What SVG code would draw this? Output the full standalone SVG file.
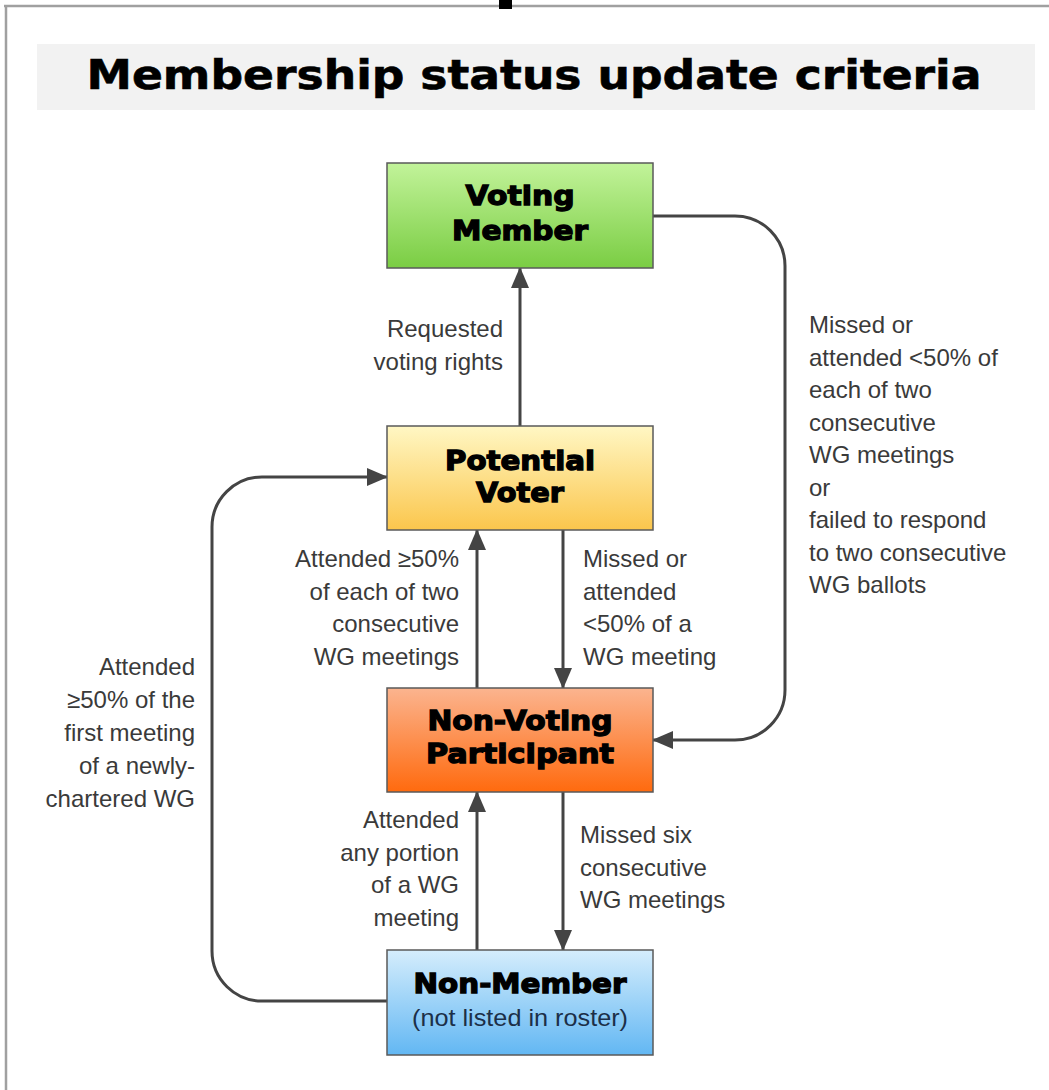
<svg xmlns="http://www.w3.org/2000/svg" width="1049" height="1090" viewBox="0 0 1049 1090">
<defs>
<linearGradient id="gGreen" x1="0" y1="0" x2="0" y2="1"><stop offset="0" stop-color="#c2f39a"/><stop offset="1" stop-color="#7acd43"/></linearGradient>
<linearGradient id="gYellow" x1="0" y1="0" x2="0" y2="1"><stop offset="0" stop-color="#fff7c4"/><stop offset="1" stop-color="#fbc64c"/></linearGradient>
<linearGradient id="gOrange" x1="0" y1="0" x2="0" y2="1"><stop offset="0" stop-color="#fbb48f"/><stop offset="1" stop-color="#ff6a0e"/></linearGradient>
<linearGradient id="gBlue" x1="0" y1="0" x2="0" y2="1"><stop offset="0" stop-color="#d5edfc"/><stop offset="1" stop-color="#62b7f3"/></linearGradient>
<marker id="arr" markerUnits="userSpaceOnUse" markerWidth="21" markerHeight="18" refX="20" refY="9" orient="auto"><path d="M0,0 L21,9 L0,18 z" fill="#444"/></marker>
</defs>
<style>
.box{stroke:#5a5a5a;stroke-width:1.5}
.bt{font-family:"DejaVu Sans",sans-serif;font-weight:bold;font-size:27px;fill:#000;stroke:#000;stroke-width:1.3;text-anchor:middle}
.lb{font-family:"Liberation Sans",Arial,sans-serif;font-size:24px;fill:#3a3a3a}
.end{text-anchor:end}
.con{fill:none;stroke:#444;stroke-width:3;marker-end:url(#arr)}
</style>
<rect width="1049" height="1090" fill="#fff"/>
<g id="frame">
<line x1="4" y1="6" x2="1049" y2="6" stroke="#a0a0a0" stroke-width="2.5"/>
<line x1="6" y1="6" x2="6" y2="1090" stroke="#a0a0a0" stroke-width="2.5"/>
<rect x="499" y="0" width="13" height="9" fill="#000"/>
</g>
<g id="title">
<rect x="37" y="44" width="998" height="66" fill="#f2f2f2"/>
<text x="534" y="89" font-family="DejaVu Sans, Verdana, sans-serif" font-weight="bold" font-size="41" text-anchor="middle" textLength="895" lengthAdjust="spacingAndGlyphs" fill="#000" stroke="#000" stroke-width="0.6">Membership status update criteria</text>
</g>
<g id="connectors">
<path class="con" d="M520,426 V268"/>
<path class="con" d="M653,216 H735 A50,50 0 0 1 785,266 V690 A50,50 0 0 1 735,740 H653"/>
<path class="con" d="M477,688 V530"/>
<path class="con" d="M563,530 V688"/>
<path class="con" d="M477,950 V792"/>
<path class="con" d="M563,792 V950"/>
<path class="con" d="M387,1001 H263 A50,50 0 0 1 212,951 V527 A50,50 0 0 1 262,477 H387"/>
</g>
<g id="labels">
<text class="lb end" x="503" y="337">Requested</text>
<text class="lb end" x="503" y="370">voting rights</text>
<text class="lb" x="809" y="333">Missed or</text>
<text class="lb" x="809" y="365.5">attended &lt;50% of</text>
<text class="lb" x="809" y="398">each of two</text>
<text class="lb" x="809" y="430.5">consecutive</text>
<text class="lb" x="809" y="463">WG meetings</text>
<text class="lb" x="809" y="495.5">or</text>
<text class="lb" x="809" y="528">failed to respond</text>
<text class="lb" x="809" y="560.5">to two consecutive</text>
<text class="lb" x="809" y="593">WG ballots</text>
<text class="lb end" x="459" y="567">Attended ≥50%</text>
<text class="lb end" x="459" y="599.5">of each of two</text>
<text class="lb end" x="459" y="632">consecutive</text>
<text class="lb end" x="459" y="664.5">WG meetings</text>
<text class="lb" x="583" y="567">Missed or</text>
<text class="lb" x="583" y="599.5">attended</text>
<text class="lb" x="583" y="632">&lt;50% of a</text>
<text class="lb" x="583" y="664.5">WG meeting</text>
<text class="lb end" x="195" y="675">Attended</text>
<text class="lb end" x="195" y="708">≥50% of the</text>
<text class="lb end" x="195" y="741">first meeting</text>
<text class="lb end" x="195" y="774">of a newly-</text>
<text class="lb end" x="195" y="807">chartered WG</text>
<text class="lb end" x="459" y="828">Attended</text>
<text class="lb end" x="459" y="861">any portion</text>
<text class="lb end" x="459" y="893">of a WG</text>
<text class="lb end" x="459" y="926">meeting</text>
<text class="lb" x="580" y="843">Missed six</text>
<text class="lb" x="580" y="876">consecutive</text>
<text class="lb" x="580" y="908">WG meetings</text>
</g>
<g id="voting-member">
<rect class="box" x="387" y="163" width="266" height="105" fill="url(#gGreen)"/>
<text class="bt" x="520" y="205" textLength="109" lengthAdjust="spacingAndGlyphs">Voting</text>
<text class="bt" x="520" y="240" textLength="136" lengthAdjust="spacingAndGlyphs">Member</text>
</g>
<g id="potential-voter">
<rect class="box" x="387" y="426" width="266" height="104" fill="url(#gYellow)"/>
<text class="bt" x="520" y="470" textLength="150" lengthAdjust="spacingAndGlyphs">Potential</text>
<text class="bt" x="520" y="502" textLength="88" lengthAdjust="spacingAndGlyphs">Voter</text>
</g>
<g id="non-voting-participant">
<rect class="box" x="387" y="688" width="266" height="104" fill="url(#gOrange)"/>
<text class="bt" x="520" y="730" textLength="185" lengthAdjust="spacingAndGlyphs">Non-Voting</text>
<text class="bt" x="520" y="763" textLength="188" lengthAdjust="spacingAndGlyphs">Participant</text>
</g>
<g id="non-member">
<rect class="box" x="387" y="950" width="266" height="105" fill="url(#gBlue)"/>
<text class="bt" x="520" y="993" textLength="213" lengthAdjust="spacingAndGlyphs">Non-Member</text>
<text x="520" y="1026" font-family="Liberation Sans, Arial, sans-serif" font-size="24" fill="#1c2f48" text-anchor="middle" textLength="216" lengthAdjust="spacingAndGlyphs">(not listed in roster)</text>
</g>
</svg>
